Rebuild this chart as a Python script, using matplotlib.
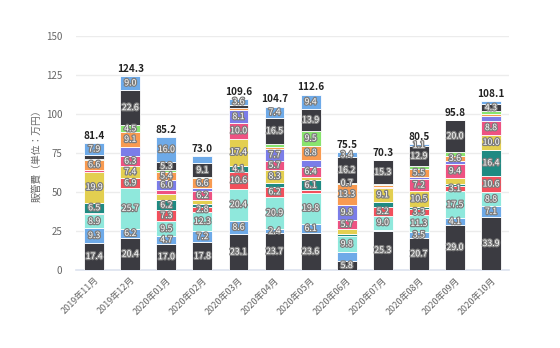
import matplotlib
matplotlib.use("Agg")
import matplotlib.pyplot as plt
import matplotlib.patheffects as pe
import numpy as np

plt.rcParams['font.family'] = ['Noto Sans CJK JP', 'DejaVu Sans']

months = ["2019年11月", "2019年12月", "2020年01月", "2020年02月", "2020年03月", "2020年04月",
          "2020年05月", "2020年06月", "2020年07月", "2020年08月", "2020年09月", "2020年10月"]
totals = [81.4, 124.3, 85.2, 73.0, 109.6, 104.7, 112.6, 75.5, 70.3, 80.5, 95.8, 108.1]

# stacked series, bottom to top
s_dark   = [17.4, 20.4, 17.0, 17.8, 23.1, 23.7, 23.6, 5.8, 25.3, 20.7, 29.0, 33.9]
s_blue   = [9.3, 6.2, 4.7, 7.2, 8.6, 2.4, 6.1, 6.0, 0.6, 3.5, 4.1, 7.1]
s_cyan   = [8.9, 25.7, 9.5, 12.3, 20.4, 20.9, 19.8, 9.8, 9.0, 11.3, 17.5, 8.8]
s_red    = [1.0, 6.9, 7.3, 2.8, 10.6, 6.2, 1.8, 0.5, 5.2, 3.3, 3.1, 10.6]
s_teal   = [6.5, 0.0, 6.2, 2.0, 4.1, 2.7, 6.1, 1.3, 3.5, 1.5, 1.5, 16.4]
s_yellow = [19.9, 7.4, 4.0, 2.5, 17.4, 8.3, 2.5, 3.0, 9.1, 10.5, 3.6, 10.0]
s_pink   = [0.8, 6.3, 2.8, 6.2, 10.0, 5.7, 6.4, 5.7, 0.8, 7.2, 9.4, 8.8]
s_purple = [0.3, 6.2, 6.0, 1.5, 8.1, 7.7, 4.5, 9.8, 0.0, 1.5, 1.5, 3.0]
s_orange = [6.6, 9.1, 5.4, 6.6, 1.2, 1.5, 8.8, 13.3, 1.2, 5.5, 3.6, 1.2]
s_green  = [0.5, 4.5, 1.0, 0.5, 0.0, 1.7, 9.5, 0.7, 0.3, 1.5, 2.5, 2.0]
s_dark2  = [2.3, 22.6, 5.3, 9.1, 2.5, 16.5, 13.9, 16.2, 15.3, 12.9, 20.0, 4.3]
s_blue2  = [7.9, 9.0, 16.0, 4.5, 3.6, 7.4, 9.4, 3.4, 0.0, 1.1, 0.0, 2.0]

series = [s_dark, s_blue, s_cyan, s_red, s_teal, s_yellow, s_pink, s_purple,
          s_orange, s_green, s_dark2, s_blue2]
colors = ["#3b3b41", "#6eaae8", "#8fe8dc", "#f2505c", "#1f8a82", "#e3cf50",
          "#ee5282", "#7b7de8", "#f89a50", "#88e46e", "#3b3b41", "#6eaae8"]

# segments whose labels are not shown in the reference (month index, series index)
hidden = {(1, 7), (2, 5), (2, 6), (3, 11), (4, 10), (4, 8), (5, 4), (7, 1), (7, 5),
          (8, 4), (10, 5), (10, 9), (11, 7), (11, 9), (10, 4), (3, 4), (3, 5),
          (6, 7), (6, 5)}
shown_small = {(7, 9), (9, 11)}

fig = plt.figure(figsize=(5.6, 3.48), dpi=100)
ax = fig.add_axes([0.136, 0.224, 0.773, 0.673])

x = np.arange(len(months))
bottom = np.zeros(len(months))
stroke = [pe.withStroke(linewidth=1.8, foreground="#7d7d7d")]
for si, (vals, col) in enumerate(zip(series, colors)):
    vals = np.array(vals)
    ax.bar(x, vals, bottom=bottom, width=0.55, color=col, edgecolor="white",
           linewidth=0.6, zorder=3)
    for i, v in enumerate(vals):
        if v <= 0:
            continue
        show = (v >= 2.4 and (i, si) not in hidden) or (i, si) in shown_small
        if show:
            ax.text(x[i], bottom[i] + v / 2, f"{v:.1f}", ha="center", va="center",
                    fontsize=6.3, color="white", path_effects=stroke, zorder=5)
    bottom = bottom + vals

for i, t in enumerate(totals):
    ax.text(x[i], t + 1.5, f"{t:.1f}", ha="center", va="bottom", fontsize=7.2,
            fontweight="bold", color="#222222", zorder=5)

ax.set_ylim(0, 150)
ax.set_xlim(-0.5, len(months) - 0.5)
ax.set_yticks([0, 25, 50, 75, 100, 125, 150])
ax.yaxis.grid(True, color="#ececec", linewidth=1, zorder=0)
ax.set_axisbelow(True)
for s in ["top", "right", "left"]:
    ax.spines[s].set_visible(False)
ax.spines["bottom"].set_color("#dde3ef")
ax.spines["bottom"].set_linewidth(1.2)
ax.tick_params(axis="y", length=0, labelsize=7, labelcolor="#666666", pad=10)
ax.tick_params(axis="x", length=0, labelsize=6.5, labelcolor="#666666", pad=4)
ax.set_xticks(x)
ax.set_xticklabels(months, rotation=45, ha="right", rotation_mode="anchor")
ax.set_ylabel("販管費（単位：万円）", fontsize=7, color="#666666", labelpad=3)

fig.savefig("out.png", dpi=100)
